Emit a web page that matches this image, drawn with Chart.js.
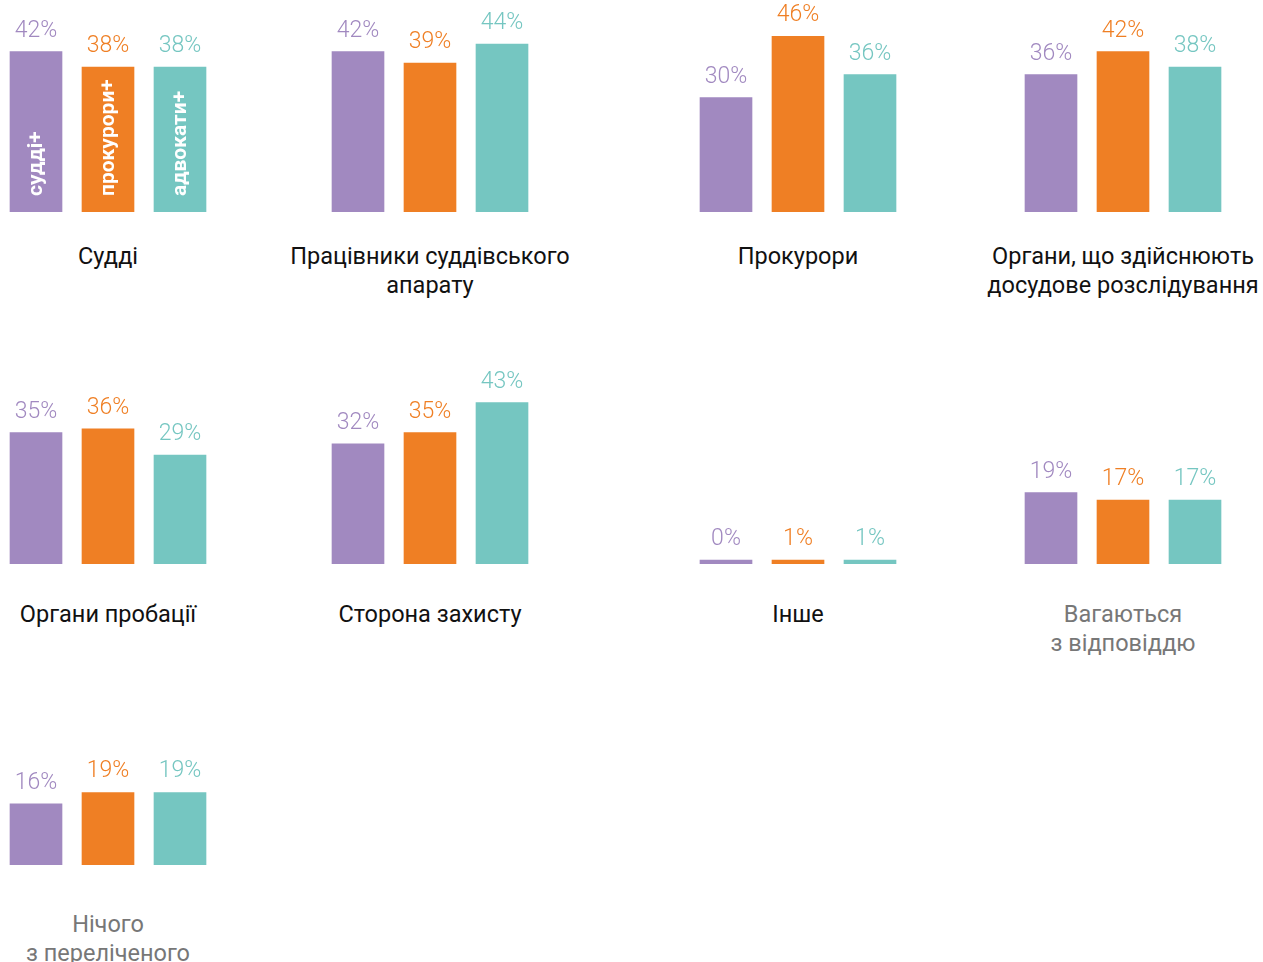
<!DOCTYPE html>
<html lang="uk">
<head>
<meta charset="utf-8">
<title>Оцінка професійних груп</title>
<script src="https://cdn.jsdelivr.net/npm/chart.js@4/dist/chart.umd.min.js"></script>
<style>
  html, body { margin: 0; padding: 0; background: #fff; }
  body { width: 1263px; height: 962px; position: relative; overflow: hidden; font-family: Roboto, "Noto Sans", sans-serif; }
  .panel { position: absolute; width: 216px; height: 240px; }
  .title { position: absolute; width: 320px; text-align: center; font-size: 23.5px; line-height: 29px; color: #111; }
  .title.muted { color: #777; }
</style>
</head>
<body>
<script>
// Series (respondent groups) and the categories being rated
const seriesNames = ["судді+", "прокурори+", "адвокати+"];
const categories = [
  "Судді",
  "Працівники суддівського\nапарату",
  "Прокурори",
  "Органи, що здійснюють\nдосудове розслідування",
  "Органи пробації",
  "Сторона захисту",
  "Інше",
  "Вагаються\nз відповіддю",
  "Нічого\nз переліченого"
];
const judges      = [42, 42, 30, 36, 35, 32, 0, 19, 16];
const prosecutors = [38, 39, 46, 42, 36, 35, 1, 17, 19];
const lawyers     = [38, 44, 36, 38, 29, 43, 1, 17, 19];

const colors = ["#a189c0", "#ef7f24", "#75c6c1"];

// grid placement: column center x, bar baseline y, title top y, axis max
const cols = [108, 430, 798, 1123];
const rows = [
  { base: 212, title: 242, max: 60 },
  { base: 564, title: 600, max: 61 },
  { base: 865, title: 910, max: 60 }
];
const mutedTitles = [7, 8];

const valueLabels = {
  id: "valueLabels",
  afterDatasetsDraw(chart, args, opts) {
    const { ctx } = chart;
    const meta = chart.getDatasetMeta(0);
    const data = chart.data.datasets[0].data;
    ctx.save();
    meta.data.forEach((bar, i) => {
      ctx.fillStyle = colors[i];
      ctx.font = "300 23px Roboto";
      ctx.textAlign = "center";
      ctx.textBaseline = "alphabetic";
      ctx.fillText(data[i] + "%", bar.x, bar.y - 15);
      if (opts.names) {
        ctx.save();
        ctx.translate(bar.x, bar.base - 16);
        ctx.rotate(-Math.PI / 2);
        ctx.fillStyle = "#fff";
        ctx.font = "bold 21px Roboto";
        ctx.textAlign = "left";
        ctx.textBaseline = "middle";
        ctx.fillText(seriesNames[i], 0, 1);
        ctx.restore();
      }
    });
    ctx.restore();
  }
};

categories.forEach((name, i) => {
  const cx = cols[i % 4];
  const row = rows[Math.floor(i / 4)];

  const panel = document.createElement("div");
  panel.className = "panel";
  panel.style.left = (cx - 108) + "px";
  panel.style.top = (row.base - 240) + "px";
  const canvas = document.createElement("canvas");
  canvas.width = 216;
  canvas.height = 240;
  panel.appendChild(canvas);
  document.body.appendChild(panel);

  const title = document.createElement("div");
  title.className = "title" + (mutedTitles.includes(i) ? " muted" : "");
  title.style.left = (cx - 160) + "px";
  title.style.top = row.title + "px";
  title.innerHTML = name.split("\n").join("<br>");
  document.body.appendChild(title);

  new Chart(canvas, {
    type: "bar",
    data: {
      labels: seriesNames,
      datasets: [{
        data: [judges[i], prosecutors[i], lawyers[i]],
        backgroundColor: colors,
        borderWidth: 0,
        barThickness: 52,
        minBarLength: 4
      }]
    },
    options: {
      responsive: false,
      animation: false,
      layout: { padding: { top: 11, left: 0, right: 0, bottom: 0 } },
      plugins: {
        legend: { display: false },
        tooltip: { enabled: false },
        valueLabels: { names: i === 0 }
      },
      scales: {
        x: { display: false },
        y: { display: false, min: 0, max: row.max }
      }
    },
    plugins: [valueLabels]
  });
});
</script>
</body>
</html>
